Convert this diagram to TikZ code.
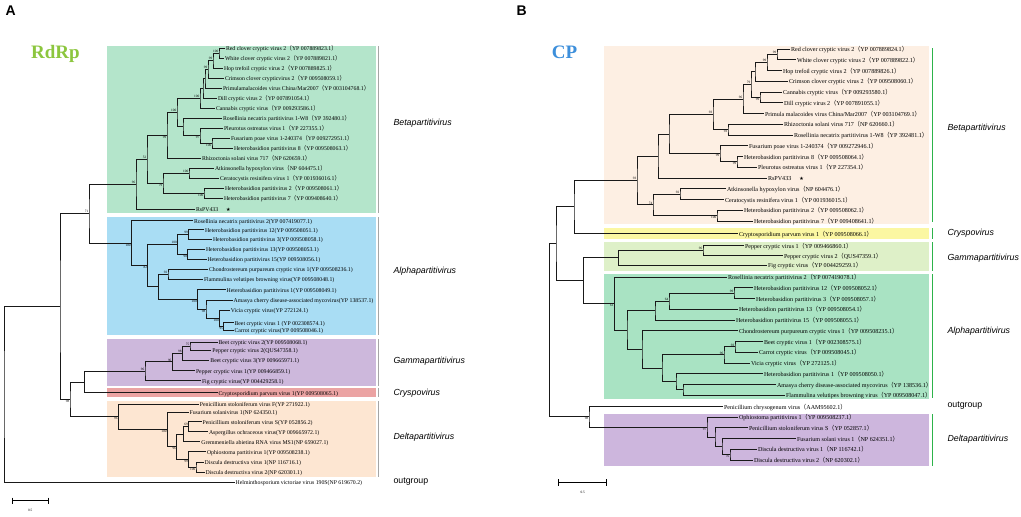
\documentclass[tikz,border=0pt]{standalone}
\usepackage{fontspec}
\setmainfont{Liberation Serif}
\newfontfamily\cladefont{Liberation Sans}
\newfontfamily\cjk{Noto Sans CJK SC}
\newfontfamily\symb{DejaVu Sans}
\usetikzlibrary{calc}

\definecolor{betaA}{HTML}{B4E5CB}
\definecolor{alphaA}{HTML}{A9DDF4}
\definecolor{gammaA}{HTML}{CDB8DC}
\definecolor{crysA}{HTML}{EBA3A3}
\definecolor{deltaA}{HTML}{FDE6D2}
\definecolor{betaB}{HTML}{FDEFE3}
\definecolor{crysB}{HTML}{FBF7A2}
\definecolor{gammaB}{HTML}{DEF0C8}
\definecolor{alphaB}{HTML}{A9E3C3}
\definecolor{deltaB}{HTML}{CDB6DD}
\definecolor{rdrp}{HTML}{8CC63E}
\definecolor{cp}{HTML}{3D8FDB}
\definecolor{sepB}{HTML}{2DB34A}

\newcommand\zlp{{\cjk （}}
\newcommand\zrp{{\cjk ）}}
\newcommand\rsmark{\hspace{8pt}{\symb\fontsize{5}{5}\selectfont ★}}
% clade: [label style]{name}{x}{upper child}{lower child}{bootstrap}
\newcommand\clade[6][bsup]{%
  \coordinate (#2m) at ($(#4)!.5!(#5)$);
  \coordinate (#2) at (#3,0 |- #2m);
  \draw[branch] (#4) -| (#2) |- (#5);
  \node[#1] at (#2) {#6};}

\tikzset{
  leafA/.style={anchor=west, inner sep=0.8pt, text height=1.4ex, text depth=.3ex, font=\fontsize{5.8}{6}\selectfont},
  leafB/.style={leafA, font=\fontsize{6.1}{6.3}\selectfont},
  branch/.style={line width=1pt, black!90},
  bsup/.style={anchor=south east, inner sep=0.6pt, font=\fontsize{3.4}{3.4}\selectfont},
  bsdn/.style={anchor=north east, inner sep=0.6pt, font=\fontsize{3.4}{3.4}\selectfont},
  genus/.style={anchor=west, font=\cladefont\itshape\fontsize{8.8}{9}\selectfont},
  outg/.style={anchor=west, font=\cladefont\fontsize{8.8}{9}\selectfont},
  panel/.style={anchor=west, font=\cladefont\bfseries\fontsize{14}{14}\selectfont},
  gene/.style={anchor=base, font=\bfseries\fontsize{19}{19}\selectfont},
  sepA/.style={gray!70, line width=0.8pt},
  sepG/.style={sepB, line width=0.9pt},
  scalebar/.style={line width=0.6pt, |-|},
}

\begin{document}
\begin{tikzpicture}[x=1pt,y=-1pt]
\useasboundingbox (0,0) rectangle (1021,517);
\fill[white] (0,0) rectangle (1021,517);

%%%%%%%%%%%%%%%% panel A
\node[panel] (labA) at (2,11) {A};
\node[gene, rdrp] (rdrp) at (55.5,58) {RdRp};

\fill[betaA] (107,46) rectangle (376,213);
\fill[alphaA] (107,217) rectangle (376,335);
\fill[gammaA] (107,339) rectangle (376,386);
\fill[crysA] (107,388) rectangle (376,397);
\fill[deltaA] (107,401) rectangle (376,477);
\draw[sepA] (378,46) -- (378,213);
\draw[sepA] (378,217) -- (378,335);
\draw[sepA] (378,339) -- (378,386);
\draw[sepA] (378,388) -- (378,397);
\draw[sepA] (378,401) -- (378,477);

% Betapartitivirus
\node[leafA] (aRC) at (225,48) {Red clover cryptic virus 2\zlp YP 007889823.1\zrp};
\node[leafA] (aWC) at (224,58) {White clover cryptic virus 2\zlp YP 007889821.1\zrp};
\node[leafA] (aHop) at (223,68) {Hop trefoil cryptic virus 2\zlp YP 007889825.1\zrp};
\node[leafA] (aCri) at (224,78) {Crimson clover crypticvirus 2\zlp YP 009508059.1\zrp};
\node[leafA] (aPri) at (222,88) {Primulamalacoides virus China/Mar2007\zlp YP 003104768.1\zrp};
\node[leafA] (aDil) at (217,98) {Dill cryptic virus 2\zlp YP 007891054.1\zrp};
\node[leafA] (aCan) at (215,108) {Cannabis cryptic virus\zlp YP 009293586.1\zrp};
\node[leafA] (aRo1) at (222,118) {Rosellinia necatrix partitivirus 1-W8\zlp YP 392480.1\zrp};
\node[leafA] (aPle) at (223,128) {Pleurotus ostreatus virus 1\zlp YP 227355.1\zrp};
\node[leafA] (aFus) at (230,138) {Fusarium poae virus 1-240374\zlp YP 009272951.1\zrp};
\node[leafA] (aH8) at (233,148) {Heterobasidion partitivirus 8\zlp YP 009508063.1\zrp};
\node[leafA] (aRhi) at (201,158) {Rhizoctonia solani virus 717\zlp NP 620659.1\zrp};
\node[leafA] (aAtk) at (214,168) {Atkinsonella hypoxylon virus\zlp NP 604475.1\zrp};
\node[leafA] (aCer) at (219,178) {Ceratocystis resinifera virus 1\zlp YP 001936016.1\zrp};
\node[leafA] (aH2) at (224,188) {Heterobasidion partitivirus 2\zlp YP 009508061.1\zrp};
\node[leafA] (aH7) at (223,198) {Heterobasidion partitivirus 7\zlp YP 009408640.1\zrp};
\node[leafA] (aRs) at (195,209) {RsPV433\rsmark};

\clade{aN1}{219}{aRC}{aWC}{100}
\clade{aN2}{213}{aN1}{aHop}{99}
\clade{aN3}{208}{aN2}{aCri}{99}
\clade{aN4}{205}{aN3}{aPri}{}
\clade{aN5}{203}{aN4}{aDil}{}
\clade{aN6}{200}{aN5}{aCan}{100}
\clade[bsdn]{aNa}{212}{aFus}{aH8}{100}
\clade[bsdn]{aNb}{200}{aPle}{aNa}{97}
\clade{aNc}{183}{aRo1}{aNb}{}
\clade{aNd}{177}{aN6}{aNc}{100}
\clade[bsdn]{aNe}{167}{aNd}{aRhi}{99}
\clade{aNf}{189}{aAtk}{aCer}{100}
\clade[bsdn]{aNg}{204}{aH2}{aH7}{100}
\clade[bsdn]{aNh}{163}{aNf}{aNg}{79}
\clade{aNi}{147}{aNe}{aNh}{52}
\clade{aNj}{136}{aNi}{aRs}{96}

% Alphapartitivirus
\node[leafA] (aRo2) at (193,220.7) {Rosellinia necatrix partitivirus 2(YP 007419077.1)};
\node[leafA] (aH12) at (204,229.5) {Heterobasidion partitivirus 12(YP 009508051.1)};
\node[leafA] (aH3) at (212,239) {Heterobasidion partitivirus 3(YP 009508058.1)};
\node[leafA] (aH13) at (205,249) {Heterobasidion partitivirus 13(YP 009508053.1)};
\node[leafA] (aH15) at (206.5,259) {Heterobasidion partitivirus 15(YP 009508056.1)};
\node[leafA] (aCho) at (208,269.3) {Chondrostereum purpureum cryptic virus 1(YP 009508236.1)};
\node[leafA] (aFla) at (203,279.3) {Flammulina velutipes browning virus(YP 009508048.1)};
\node[leafA] (aH1) at (225.7,289.7) {Heterobasidion partitivirus 1(YP 009508049.1)};
\node[leafA] (aAma) at (232.7,300) {Amasya cherry disease-associated mycovirus(YP 138537.1)};
\node[leafA] (aVic) at (229.8,310) {Vicia cryptic virus(YP 272124.1)};
\node[leafA] (aBe1) at (233.5,322.7) {Beet cryptic virus 1 (YP 002308574.1)};
\node[leafA] (aCar) at (233.5,330.3) {Carrot cryptic virus(YP 009508046.1)};

\clade{aA1}{188.6}{aH12}{aH3}{99}
\clade[bsdn]{aA2}{187.8}{aH13}{aH15}{98}
\clade{aA3}{177.5}{aA1}{aA2}{100}
\clade{aA5}{168}{aCho}{aFla}{92}
\clade[bsdn]{aA6}{223.7}{aBe1}{aCar}{95}
\clade[bsdn]{aA7}{219.6}{aVic}{aA6}{100}
\clade[bsdn]{aA8}{206}{aAma}{aA7}{98}
\clade[bsdn]{aA9}{197.6}{aH1}{aA8}{100}
\clade{aA9b}{158.4}{aA5}{aA9}{}
\clade[bsdn]{aA10}{147.8}{aA3}{aA9b}{82}
\clade[bsdn]{aA11}{131.4}{aRo2}{aA10}{100}

% Gammapartitivirus
\node[leafA] (aBe2) at (217.6,342) {Beet cryptic virus 2(YP 009508068.1)};
\node[leafA] (aPe2) at (211.4,350.3) {Pepper cryptic virus 2(QUS47358.1)};
\node[leafA] (aBe3) at (209.4,360.3) {Beet cryptic virus 3(YP 009665971.1)};
\node[leafA] (aPe1) at (195,370.7) {Pepper cryptic virus 1(YP 009466859.1)};
\node[leafA] (aFig) at (201,380.7) {Fig cryptic virus(YP 004429258.1)};

\clade{aG1}{190}{aBe2}{aPe2}{75}
\clade{aG2}{182.4}{aG1}{aBe3}{98}
\clade{aG3}{172.2}{aG2}{aPe1}{96}
\clade{aG4}{145}{aG3}{aFig}{96}

% Cryspovirus
\node[leafA] (aCry) at (217.6,392.7) {Cryptosporidium parvum virus 1(YP 009508065.1)};

% Deltapartitivirus
\node[leafA] (aPsF) at (198.8,404) {Penicillium stoloniferum virus F(YP 271922.1)};
\node[leafA] (aFso) at (188.6,412.3) {Fusarium solanivirus 1(NP 624350.1)};
\node[leafA] (aPsS) at (201.6,421.7) {Penicillium stoloniferum virus S(YP 052856.2)};
\node[leafA] (aAsp) at (208,431.7) {Aspergillus ochraceous virus(YP 009665972.1)};
\node[leafA] (aGre) at (200.4,441.7) {Gremmeniella abietina RNA virus MS1(NP 659027.1)};
\node[leafA] (aOph) at (206,451.7) {Ophiostoma partitivirus 1(YP 009508238.1)};
\node[leafA] (aDi1) at (203.7,462) {Discula destructiva virus 1(NP 116716.1)};
\node[leafA] (aDi2) at (204.5,472) {Discula destructiva virus 2(NP 620301.1)};

\clade{aD1}{188.6}{aPsS}{aAsp}{69}
\clade{aD2}{183.7}{aD1}{aGre}{}
\clade[bsdn]{aD3}{196}{aDi1}{aDi2}{100}
\clade[bsdn]{aD4}{188.6}{aOph}{aD3}{99}
\clade[bsdn]{aD5}{176.7}{aD2}{aD4}{96}
\clade[bsdn]{aD6}{167.3}{aFso}{aD5}{100}
\clade[bsdn]{aD7}{118.4}{aPsF}{aD6}{96}

% outgroup
\node[leafA] (aHel) at (234.7,482.3) {Helminthosporium victoriae virus 190S(NP 619670.2)};

\clade{aK}{89}{aNj}{aA11}{71}
\clade{aG5}{84.5}{aG4}{aCry}{}
\clade[bsdn]{aQ}{70}{aG5}{aD7}{98}
\clade{aP}{60}{aK}{aQ}{}
\clade{aR}{4}{aP}{aHel}{}

\node[genus] (gA1) at (390,123) {Betapartitivirus};
\node[genus] (gA2) at (390,271) {Alphapartitivirus};
\node[genus] (gA3) at (390,361) {Gammapartitivirus};
\node[genus] (gA4) at (390,393) {Cryspovirus};
\node[genus] (gA5) at (390,437) {Deltapartitivirus};
\node[outg] (gA6) at (390,482) {outgroup};

\draw[scalebar] (12.2,500.7) coordinate (sA1) -- (48.2,500.7) coordinate (sA2);
\node[bsdn, anchor=north] at ($(sA1)!.5!(sA2)+(0,8)$) {0.5};

%%%%%%%%%%%%%%%% panel B
\node[panel] (labB) at (513,11) {B};
\node[gene, cp] (cpg) at (564.5,58) {CP};

\fill[betaB] (604,46) rectangle (929,224);
\fill[crysB] (604,228) rectangle (929,239);
\fill[gammaB] (604,241.5) rectangle (929,271);
\fill[alphaB] (604,274) rectangle (929,399);
\fill[deltaB] (604,414) rectangle (929,466);
\draw[sepG] (932,48) -- (932,222);
\draw[sepG] (932,228) -- (932,239);
\draw[sepG] (932,242) -- (932,271);
\draw[sepG] (932,274) -- (932,398);
\draw[sepG] (932,414) -- (932,466);

% Betapartitivirus
\node[leafB] (bRC) at (790,49) {Red clover cryptic virus 2\zlp YP 007889824.1\zrp};
\node[leafB] (bWC) at (796,59.75) {White clover cryptic virus 2\zlp YP 007889822.1\zrp};
\node[leafB] (bHop) at (782,70.5) {Hop trefoil cryptic virus 2\zlp YP 007889826.1\zrp};
\node[leafB] (bCri) at (788,81.25) {Crimson clover cryptic virus 2\zlp YP 009508060.1\zrp};
\node[leafB] (bCan) at (782,92) {Cannabis cryptic virus\zlp YP 009293580.1\zrp};
\node[leafB] (bDil) at (783,102.75) {Dill cryptic virus 2\zlp YP 007891055.1\zrp};
\node[leafB] (bPri) at (764,113.5) {Primula malacoides virus China/Mar2007\zlp YP 003104769.1\zrp};
\node[leafB] (bRhi) at (783,124.25) {Rhizoctonia solani virus 717\zlp NP 620660.1\zrp};
\node[leafB] (bRo1) at (793,135) {Rosellinia necatrix partitivirus 1-W8\zlp YP 392481.1\zrp};
\node[leafB] (bFus) at (748,145.75) {Fusarium poae virus 1-240374\zlp YP 009272946.1\zrp};
\node[leafB] (bH8) at (743,156.5) {Heterobasidion partitivirus 8\zlp YP 009508064.1\zrp};
\node[leafB] (bPle) at (757,167.25) {Pleurotus ostreatus virus 1\zlp YP 227354.1\zrp};
\node[leafB] (bRs) at (767,178) {RsPV433\rsmark};
\node[leafB] (bAtk) at (726,188.75) {Atkinsonella hypoxylon virus\zlp NP 604476.1\zrp};
\node[leafB] (bCer) at (724,199.5) {Ceratocystis resinifera virus 1\zlp YP 001936015.1\zrp};
\node[leafB] (bH2) at (743,210.25) {Heterobasidion partitivirus 2\zlp YP 009508062.1\zrp};
\node[leafB] (bH7) at (753,221) {Heterobasidion partitivirus 7\zlp YP 009408641.1\zrp};

\clade{bP1}{777}{bRC}{bWC}{99}
\clade{bP2}{767}{bP1}{bHop}{99}
\clade{bP3}{755}{bP2}{bCri}{}
\clade[bsdn]{bP4}{760}{bCan}{bDil}{99}
\clade{bP5}{751}{bP3}{bP4}{79}
\clade{bP6}{743}{bP5}{bPri}{96}
\clade[bsdn]{bR1}{728}{bRhi}{bRo1}{93}
\clade{bP7}{713}{bP6}{bR1}{93}
\clade[bsdn]{bF1}{737}{bH8}{bPle}{99}
\clade[bsdn]{bF2}{720}{bFus}{bF1}{99}
\clade{bP8}{669}{bP7}{bF2}{}
\clade{bP9}{658}{bP8}{bRs}{}
\clade{bA1}{680}{bAtk}{bCer}{92}
\clade[bsdn]{bH1n}{717}{bH2}{bH7}{100}
\clade{bA2}{653}{bA1}{bH1n}{74}
\clade{bBR}{637}{bP9}{bA2}{93}

% Cryspovirus
\node[leafB] (bCry) at (738,233.5) {Cryptosporidium parvum virus 1\zlp YP 009508066.1\zrp};

% Gammapartitivirus
\node[leafB] (bPe1) at (744,245.5) {Pepper cryptic virus 1\zlp YP 009466860.1\zrp};
\node[leafB] (bPe2) at (783,255.5) {Pepper cryptic virus 2\zlp QUS47359.1\zrp};
\node[leafB] (bFig) at (767,265) {Fig cryptic virus\zlp YP 004429259.1\zrp};

\clade{bG1}{703}{bPe1}{bPe2}{96}
\clade{bG2}{618.4}{bG1}{bFig}{}

% Alphapartitivirus
\node[leafB] (bRo2) at (727,277) {Rosellinia necatrix partitivirus 2\zlp YP 007419078.1\zrp};
\node[leafB] (bH12) at (753,287.75) {Heterobasidion partitivirus 12\zlp YP 009508052.1\zrp};
\node[leafB] (bH3) at (755,298.5) {Heterobasidion partitivirus 3\zlp YP 009508057.1\zrp};
\node[leafB] (bH13) at (738,309.25) {Heterobasidion partitivirus 13\zlp YP 009508054.1\zrp};
\node[leafB] (bH15) at (735,320) {Heterobasidion partitivirus 15\zlp YP 009508055.1\zrp};
\node[leafB] (bCho) at (738,330.75) {Chondrostereum purpureum cryptic virus 1\zlp YP 009508235.1\zrp};
\node[leafB] (bBe1) at (763,341.5) {Beet cryptic virus 1\zlp YP 002308575.1\zrp};
\node[leafB] (bCar) at (758,352.25) {Carrot cryptic virus\zlp YP 009508045.1\zrp};
\node[leafB] (bVic) at (750,363) {Vicia cryptic virus\zlp YP 272125.1\zrp};
\node[leafB] (bH1) at (763,373.75) {Heterobasidion partitivirus 1\zlp YP 009508050.1\zrp};
\node[leafB] (bAma) at (776,384.5) {Amasya cherry disease-associated mycovirus\zlp YP 138536.1\zrp};
\node[leafB] (bFla) at (785,395.25) {Flammulina velutipes browning virus\zlp YP 009508047.1\zrp};

\clade{bB1}{734}{bH12}{bH3}{99}
\clade{bB2}{669}{bB1}{bH13}{64}
\clade{bB3}{655}{bB2}{bH15}{}
\clade{bB5}{735}{bBe1}{bCar}{93}
\clade{bB6}{724}{bB5}{bVic}{96}
\clade{bB7}{683}{bAma}{bFla}{}
\clade{bB8}{676}{bH1}{bB7}{}
\clade{bB9}{662}{bB6}{bB8}{}
\clade{bB10}{642}{bCho}{bB9}{}
\clade{bB11}{627}{bB3}{bB10}{}
\clade[bsdn]{bB12}{614.3}{bRo2}{bB11}{61}

% outgroup
\node[leafB] (bPch) at (723,406.5) {Penicillium chrysogenum virus\zlp AAM95602.1\zrp};

% Deltapartitivirus
\node[leafB] (bOph) at (738,417) {Ophiostoma partitivirus 1\zlp YP 009508237.1\zrp};
\node[leafB] (bPsS) at (748,427.75) {Penicillium stoloniferum virus S\zlp YP 052857.1\zrp};
\node[leafB] (bFso) at (796,438.5) {Fusarium solani virus 1\zlp NP 624351.1\zrp};
\node[leafB] (bDi1) at (757,449.25) {Discula destructiva virus 1\zlp NP 116742.1\zrp};
\node[leafB] (bDi2) at (753,460) {Discula destructiva virus 2\zlp NP 620302.1\zrp};

\clade[bsdn]{bD1}{730}{bDi1}{bDi2}{76}
\clade{bD2}{722}{bFso}{bD1}{}
\clade{bD3}{715}{bPsS}{bD2}{}
\clade[bsdn]{bD4}{707}{bOph}{bD3}{97}

\clade{bC1}{574}{bBR}{bCry}{}
\clade{bC2}{583.7}{bG2}{bB12}{}
\clade{bC3}{556}{bC1}{bC2}{}
\clade[bsdn]{bC4}{589}{bPch}{bD4}{98}
\clade{bC5}{549.8}{bC3}{bC4}{}

\node[genus] (gB1) at (944,128) {Betapartitivirus};
\node[genus] (gB2) at (944,233) {Cryspovirus};
\node[genus] (gB3) at (944,258) {Gammapartitivirus};
\node[genus] (gB4) at (944,331) {Alphapartitivirus};
\node[outg] (gB5) at (944,406) {outgroup};
\node[genus] (gB6) at (944,439) {Deltapartitivirus};

\draw[scalebar] (558.4,482.3) coordinate (sB1) -- (607,482.3) coordinate (sB2);
\node[bsdn, anchor=north] at ($(sB1)!.5!(sB2)+(0,8)$) {0.5};
\end{tikzpicture}
\end{document}
